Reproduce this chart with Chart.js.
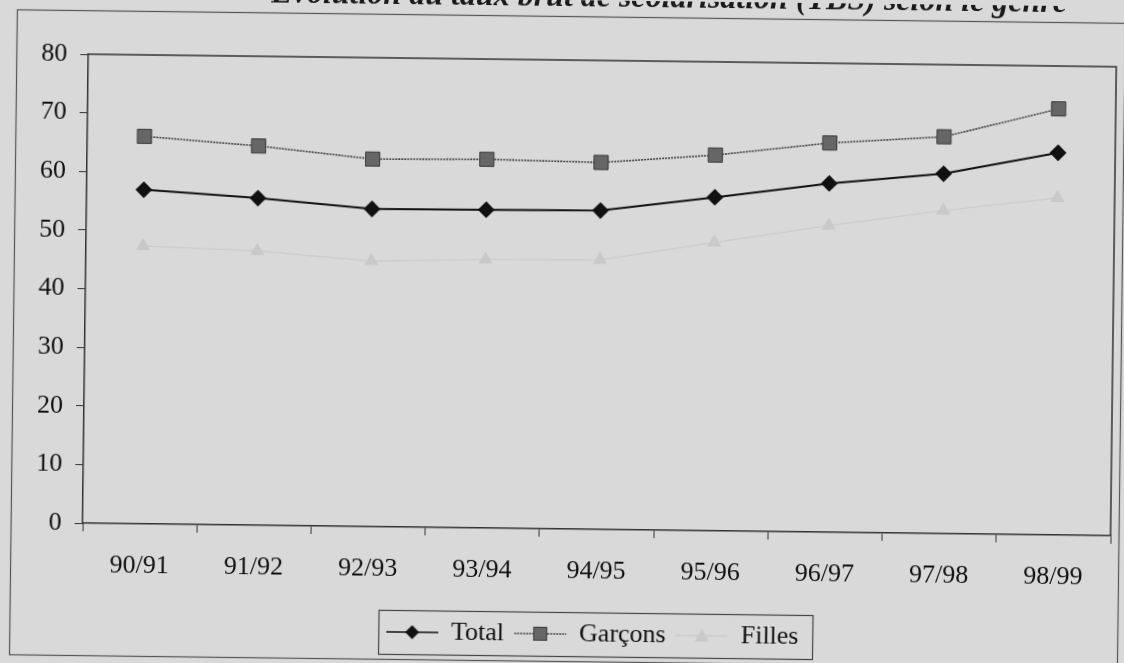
<!DOCTYPE html>
<html>
<head>
<meta charset="utf-8">
<script src="https://cdn.jsdelivr.net/npm/chart.js@4.4.0/dist/chart.umd.min.js"></script>
<style>
  html, body { margin: 0; padding: 0; background: #d9d9d9; overflow: hidden; }
  #wrap { width: 1124px; height: 663px; }
  /* the source is a scan that sits a little crooked */
  #tbsChart { transform: rotate(0.7deg); transform-origin: 562px 331px; }
</style>
</head>
<body>
<div id="wrap"><canvas id="tbsChart" width="1124" height="663"></canvas></div>
<script>
const titleText = "Évolution du taux brut de scolarisation (TBS) selon le genre";
const years = ["90/91", "91/92", "92/93", "93/94", "94/95", "95/96", "96/97", "97/98", "98/99"];
const totalValues = [57.0, 55.8, 54.2, 54.3, 54.4, 56.9, 59.5, 61.4, 65.2];
const garconsValues = [66.1, 64.7, 62.7, 62.9, 62.6, 64.1, 66.4, 67.7, 72.7];
const fillesValues = [47.4, 46.8, 45.3, 45.8, 46.0, 49.2, 52.3, 55.1, 57.5];
const yTicks = [0, 10, 20, 30, 40, 50, 60, 70, 80];

const serif = "'Liberation Serif', 'Times New Roman', serif";

// small legend icon: line with the marker in the middle
function legendIcon(lineColor, dash, draw) {
    const c = document.createElement("canvas");
    c.width = 52;
    c.height = 18;
    const g = c.getContext("2d");
    g.strokeStyle = lineColor;
    g.lineWidth = 1.6;
    g.setLineDash(dash);
    g.beginPath();
    g.moveTo(0, 9);
    g.lineTo(52, 9);
    g.stroke();
    g.setLineDash([]);
    draw(g);
    return c;
}

const iconTotal = legendIcon("#111", [], g => {
    g.fillStyle = "#111";
    g.beginPath();
    g.moveTo(26, 2); g.lineTo(33, 9); g.lineTo(26, 16); g.lineTo(19, 9);
    g.closePath();
    g.fill();
});
const iconGarcons = legendIcon("#444", [2, 1], g => {
    g.fillStyle = "#666";
    g.fillRect(19, 2, 14, 14);
    g.strokeStyle = "#3a3a3a";
    g.lineWidth = 1;
    g.strokeRect(19.5, 2.5, 13, 13);
});
const iconFilles = legendIcon("#cbcbcb", [], g => {
    g.fillStyle = "#c9c9c9";
    g.beginPath();
    g.moveTo(26, 2); g.lineTo(33, 15); g.lineTo(19, 15);
    g.closePath();
    g.fill();
});

const decorPlugin = {
    id: "decor",
    afterLayout(chart) {
        // legend sits a bit right of centre in the original
        const lg = chart.legend;
        lg.left += 32;
        lg.right += 32;
    },
    beforeDraw(chart) {
        const ctx = chart.ctx;
        ctx.save();
        ctx.fillStyle = "#d9d9d9";
        ctx.fillRect(0, 0, chart.width, chart.height);
        // title, cut off at the top like in the scan
        ctx.font = "italic bold 32px " + serif;
        ctx.fillStyle = "#1a1a1a";
        ctx.textAlign = "right";
        ctx.textBaseline = "alphabetic";
        ctx.fillText(titleText, 1063, 6);
        // outer frame
        ctx.strokeStyle = "#555";
        ctx.lineWidth = 1.2;
        ctx.strokeRect(13.5, 16.5, 1108, 645);
        ctx.restore();
    },
    afterDraw(chart) {
        const ctx = chart.ctx;
        const a = chart.chartArea;
        ctx.save();
        // top and right edges of the plot area
        ctx.strokeStyle = "#333";
        ctx.lineWidth = 1.5;
        ctx.beginPath();
        ctx.moveTo(a.left, a.top);
        ctx.lineTo(a.right, a.top);
        ctx.lineTo(a.right, a.bottom);
        ctx.stroke();
        // legend box
        const boxes = chart.legend.legendHitBoxes;
        if (boxes && boxes.length) {
            const left = Math.min(...boxes.map(b => b.left)) - 8;
            const right = Math.max(...boxes.map(b => b.left + b.width)) + 14;
            const top = boxes[0].top - 9;
            const bottom = boxes[0].top + boxes[0].height + 9;
            ctx.strokeStyle = "#444";
            ctx.lineWidth = 1.2;
            ctx.strokeRect(Math.round(left) + 0.5, Math.round(top) + 0.5, Math.round(right - left), Math.round(bottom - top));
        }
        ctx.restore();
    }
};

const ctx = document.getElementById("tbsChart").getContext("2d");
new Chart(ctx, {
    type: "line",
    data: {
        labels: years,
        datasets: [{
            label: "Total",
            data: totalValues,
            borderColor: "#111",
            borderWidth: 2,
            pointStyle: "rectRot",
            pointRadius: 7,
            pointBackgroundColor: "#111",
            pointBorderColor: "#111",
            legendIcon: iconTotal
        }, {
            label: "Garçons",
            data: garconsValues,
            borderColor: "#444",
            borderWidth: 1.6,
            borderDash: [2, 1],
            pointStyle: "rect",
            pointRadius: 10,
            pointBackgroundColor: "#666",
            pointBorderColor: "#3a3a3a",
            pointBorderWidth: 1,
            legendIcon: iconGarcons
        }, {
            label: "Filles",
            data: fillesValues,
            borderColor: "#cbcbcb",
            borderWidth: 1.2,
            pointStyle: "triangle",
            pointRadius: 7,
            pointBackgroundColor: "#c9c9c9",
            pointBorderColor: "#c9c9c9",
            legendIcon: iconFilles
        }]
    },
    options: {
        responsive: false,
        animation: false,
        layout: { padding: { left: 13, right: 9, top: 60, bottom: 6 } },
        plugins: {
            title: { display: false },
            tooltip: { enabled: false },
            legend: {
                position: "bottom",
                labels: {
                    usePointStyle: true,
                    pointStyleWidth: 52,
                    padding: 10,
                    color: "#111",
                    font: { family: serif, size: 26 },
                    generateLabels(chart) {
                        return chart.data.datasets.map((ds, i) => ({
                            text: ds.label,
                            pointStyle: ds.legendIcon,
                            fillStyle: "transparent",
                            strokeStyle: "transparent",
                            lineWidth: 0,
                            hidden: false,
                            datasetIndex: i,
                            fontColor: "#111"
                        }));
                    }
                }
            }
        },
        scales: {
            x: {
                offset: true,
                afterFit(scale) { scale.height = 82; },
                grid: {
                    offset: true,
                    drawOnChartArea: false,
                    drawTicks: true,
                    tickLength: 8,
                    tickColor: "#333"
                },
                border: { display: true, color: "#333", width: 1.5 },
                ticks: {
                    color: "#111",
                    padding: 19,
                    maxRotation: 0,
                    font: { family: serif, size: 26 }
                }
            },
            y: {
                min: 0,
                max: 80,
                afterFit(scale) { scale.width = 72; },
                afterBuildTicks(scale) { scale.ticks = yTicks.map(v => ({ value: v })); },
                grid: {
                    drawOnChartArea: false,
                    drawTicks: true,
                    tickLength: 8,
                    tickColor: "#333"
                },
                border: { display: true, color: "#333", width: 1.5 },
                ticks: {
                    color: "#111",
                    padding: 13,
                    font: { family: serif, size: 26 }
                }
            }
        }
    },
    plugins: [decorPlugin]
});
</script>
</body>
</html>
